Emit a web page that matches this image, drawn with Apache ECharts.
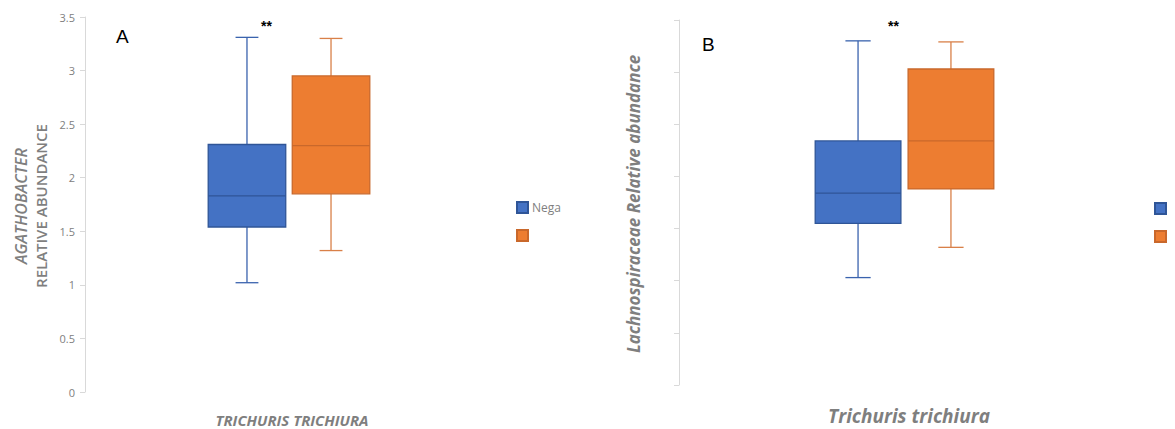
<!DOCTYPE html>
<html>
<head>
<meta charset="utf-8">
<script src="https://cdn.jsdelivr.net/npm/echarts@6/dist/echarts.min.js"></script>
<style>
  html, body { margin: 0; padding: 0; background: #fff; }
  #chart { width: 1175px; height: 429px; }
</style>
</head>
<body>
<div id="chart"></div>
<script>
// Groups and category
const groups = ['Negative', 'Positive'];
const category = ['Trichuris trichiura'];

// Five-number summaries: [min, Q1, median, Q3, max]
const agathoNegative = [1.02, 1.54, 1.83, 2.31, 3.31];
const agathoPositive = [1.32, 1.85, 2.30, 2.95, 3.30];
const lachnoNegative = [1.03, 1.55, 1.84, 2.34, 3.30];
const lachnoPositive = [1.32, 1.88, 2.34, 3.03, 3.29];

// Y axis ticks
const yMin = 0, yMax = 3.5, yStep = 0.5;

const fillColors = { Negative: '#4472C4', Positive: '#ED7D31' };
const lineColors = { Negative: '#2F5597', Positive: '#C9682B' };
const whiskerColors = { Negative: '#3A63AE', Positive: '#D98048' };

// position of each box inside the category band (fraction of band width)
const offsets = { Negative: -0.103, Positive: 0.103 };
const boxFrac = 0.19, capFrac = 0.056;

function boxRender(name) {
  return function (params, api) {
    const band = api.size([1, 0])[0];
    const cx = api.coord([api.value(0), 0])[0] + offsets[name] * band;
    const yMinP = api.coord([0, api.value(1)])[1];
    const yQ1 = api.coord([0, api.value(2)])[1];
    const yMed = api.coord([0, api.value(3)])[1];
    const yQ3 = api.coord([0, api.value(4)])[1];
    const yMaxP = api.coord([0, api.value(5)])[1];
    const bw = boxFrac * band, cw = capFrac * band;
    const wStyle = { stroke: whiskerColors[name], lineWidth: 1.3 };
    return {
      type: 'group',
      children: [
        { type: 'line', shape: { x1: cx, y1: yMaxP, x2: cx, y2: yQ3 }, style: wStyle },
        { type: 'line', shape: { x1: cx, y1: yQ1, x2: cx, y2: yMinP }, style: wStyle },
        { type: 'line', shape: { x1: cx - cw / 2, y1: yMaxP, x2: cx + cw / 2, y2: yMaxP }, style: wStyle },
        { type: 'line', shape: { x1: cx - cw / 2, y1: yMinP, x2: cx + cw / 2, y2: yMinP }, style: wStyle },
        { type: 'rect', shape: { x: cx - bw / 2, y: yQ3, width: bw, height: yQ1 - yQ3 },
          style: { fill: fillColors[name], stroke: lineColors[name], lineWidth: 1.3 } },
        { type: 'line', shape: { x1: cx - bw / 2, y1: yMed, x2: cx + bw / 2, y2: yMed },
          style: { stroke: lineColors[name], lineWidth: 1.3 } }
      ]
    };
  };
}

function boxSeries(name, idx, stats) {
  return {
    name: name,
    type: 'custom',
    xAxisIndex: idx,
    yAxisIndex: idx,
    itemStyle: { color: fillColors[name], borderColor: lineColors[name], borderWidth: 1 },
    renderItem: boxRender(name),
    encode: { x: 0, y: [1, 2, 3, 4, 5] },
    data: [[0].concat(stats)]
  };
}

const axisGray = '#D9D9D9';
const textGray = '#7F7F7F';

function yAxisDef(idx, showLabels) {
  return {
    type: 'value', gridIndex: idx, min: yMin, max: yMax, interval: yStep,
    axisLine: { show: true, lineStyle: { color: axisGray, width: 1 } },
    axisTick: { show: true, length: 5, lineStyle: { color: axisGray } },
    splitLine: { show: false },
    axisLabel: { show: showLabels, color: '#808080', fontSize: 11, fontFamily: 'Open Sans', margin: 10 }
  };
}

function xAxisDef(idx) {
  return {
    type: 'category', gridIndex: idx, data: category,
    axisLine: { show: false }, axisTick: { show: false }, axisLabel: { show: false }
  };
}

const chart = echarts.init(document.getElementById('chart'), null, { renderer: 'svg' });

chart.setOption({
  animation: false,
  backgroundColor: '#fff',
  grid: [
    { left: 85, top: 17, width: 408, height: 375 },
    { left: 679, top: 20, width: 451, height: 365 }
  ],
  xAxis: [xAxisDef(0), xAxisDef(1)],
  yAxis: [yAxisDef(0, true), yAxisDef(1, false)],
  legend: [
    {
      left: 511, top: 196, orient: 'vertical', itemWidth: 11, itemHeight: 11, itemGap: 15,
      icon: 'rect', data: groups,
      formatter: n => (n === 'Negative' ? 'Nega' : ''),
      textStyle: { color: textGray, fontSize: 12, fontFamily: 'Open Sans', padding: [0, 0, 0, -1] }
    },
    {
      left: 1149, top: 197, orient: 'vertical', itemWidth: 11, itemHeight: 11, itemGap: 15,
      icon: 'rect', data: groups,
      formatter: () => '',
      textStyle: { color: textGray, fontSize: 11 }
    }
  ],
  series: [
    boxSeries('Negative', 0, agathoNegative),
    boxSeries('Positive', 0, agathoPositive),
    boxSeries('Negative', 1, lachnoNegative),
    boxSeries('Positive', 1, lachnoPositive)
  ],
  graphic: [
    { type: 'text', left: 116, top: 27, style: { text: 'A', font: '19px "Liberation Sans"', fill: '#000' } },
    { type: 'text', left: 702, top: 35, style: { text: 'B', font: '19px "Liberation Sans"', fill: '#000' } },
    { type: 'text', left: 261, top: 19, style: { text: '**', font: 'bold 14px "Liberation Sans"', fill: '#000' } },
    { type: 'text', left: 888, top: 19, style: { text: '**', font: 'bold 14px "Liberation Sans"', fill: '#000' } },
    {
      type: 'text', x: 21, y: 206, rotation: Math.PI / 2,
      style: { text: 'AGATHOBACTER', font: 'italic 600 16px "Open Sans"', fill: textGray, align: 'center', verticalAlign: 'middle' }
    },
    {
      type: 'text', x: 41, y: 206, rotation: Math.PI / 2,
      style: { text: 'RELATIVE ABUNDANCE', font: '600 15px "Open Sans"', fill: textGray, align: 'center', verticalAlign: 'middle' }
    },
    {
      type: 'text', x: 292, y: 420,
      style: { text: 'TRICHURIS TRICHIURA', font: 'italic bold 15px "Open Sans"', fill: textGray, align: 'center', verticalAlign: 'middle' }
    },
    {
      type: 'text', x: 633, y: 204, rotation: Math.PI / 2,
      style: { text: 'Lachnospiraceae Relative abundance', font: 'italic bold 17px "Open Sans"', fill: textGray, align: 'center', verticalAlign: 'middle' }
    },
    {
      type: 'text', x: 909, y: 416,
      style: { text: 'Trichuris trichiura', font: 'italic bold 19px "Open Sans"', fill: textGray, align: 'center', verticalAlign: 'middle' }
    }
  ]
});
</script>
</body>
</html>
